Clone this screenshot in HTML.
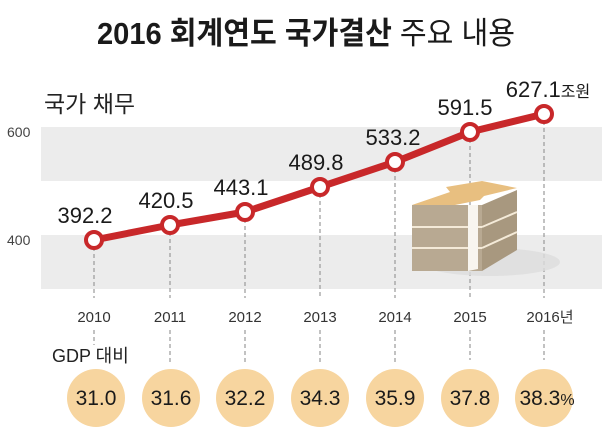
<!DOCTYPE html>
<html><head><meta charset="utf-8"><style>
html,body{margin:0;padding:0;background:#fff;}
svg{display:block;font-family:"Liberation Sans","Noto Sans CJK KR",sans-serif;}
</style></head><body>
<svg width="614" height="445" viewBox="0 0 614 445" xmlns="http://www.w3.org/2000/svg">
<rect width="614" height="445" fill="#fff"/>
<text x="97" y="44" font-size="31" fill="#1a1a1a" textLength="418" lengthAdjust="spacingAndGlyphs"><tspan font-weight="bold">2016 회계연도 국가결산</tspan> 주요 내용</text>
<text x="44" y="112" font-size="23" fill="#222">국가 채무</text>
<rect x="41" y="127" width="561" height="54" fill="#ececec"/>
<rect x="41" y="235" width="561" height="54" fill="#ececec"/>
<text x="7" y="137" font-size="14" fill="#444">600</text>
<text x="7" y="245" font-size="14" fill="#444">400</text>
<g stroke="#999" stroke-width="1.2" stroke-dasharray="4,3">
<line x1="94" y1="240" x2="94" y2="298"/><line x1="94" y1="330" x2="94" y2="345"/>
<line x1="170" y1="225" x2="170" y2="298"/><line x1="170" y1="330" x2="170" y2="365"/>
<line x1="245" y1="212" x2="245" y2="298"/><line x1="245" y1="330" x2="245" y2="365"/>
<line x1="320" y1="187" x2="320" y2="298"/><line x1="320" y1="330" x2="320" y2="365"/>
<line x1="395" y1="162" x2="395" y2="298"/><line x1="395" y1="330" x2="395" y2="365"/>
<line x1="470" y1="132" x2="470" y2="298"/><line x1="470" y1="330" x2="470" y2="360"/>
<line x1="544" y1="114" x2="544" y2="298"/><line x1="544" y1="330" x2="544" y2="360"/>
</g>
<!-- money stack -->
<g>
<ellipse cx="490" cy="262" rx="70" ry="14" fill="#ddd" opacity="0.8"/>
<polygon points="412,205 450,192 446,187 482,181 517,188 484,196 480,200 440,208" fill="#e8bf80"/>
<rect x="412" y="205" width="70" height="66" fill="#b8a992"/>
<polygon points="482,205 517,190 517,250 482,271" fill="#a8987f"/>
<line x1="412" y1="227" x2="482" y2="227" stroke="#f4ead8" stroke-width="2"/>
<line x1="412" y1="248" x2="482" y2="248" stroke="#f4ead8" stroke-width="2"/>
<line x1="482" y1="227" x2="517" y2="212" stroke="#f4ead8" stroke-width="2"/>
<line x1="482" y1="248" x2="517" y2="232" stroke="#f4ead8" stroke-width="2"/>
<polygon points="468,205 478,205 478,269 468,271" fill="#f8f5ef"/>
</g>
<polyline points="94,240 170,225 245,212 320,187 395,162 470,132 544,114" fill="none" stroke="#c8282a" stroke-width="7" stroke-linejoin="round"/>
<g fill="#fff" stroke="#c8282a" stroke-width="4">
<circle cx="94" cy="240" r="8"/><circle cx="170" cy="225" r="8"/><circle cx="245" cy="212" r="8"/>
<circle cx="320" cy="187" r="8"/><circle cx="395" cy="162" r="8"/><circle cx="470" cy="132" r="8"/><circle cx="544" cy="114" r="8"/>
</g>
<g font-size="22" fill="#1a1a1a" text-anchor="middle">
<text x="85" y="223">392.2</text><text x="166" y="208">420.5</text><text x="241" y="195">443.1</text>
<text x="316" y="170">489.8</text><text x="393" y="145">533.2</text><text x="465" y="115">591.5</text>
<text x="548" y="97">627.1<tspan font-size="16">조원</tspan></text>
</g>
<g font-size="15" fill="#333" text-anchor="middle">
<text x="94" y="322">2010</text><text x="170" y="322">2011</text><text x="245" y="322">2012</text>
<text x="320" y="322">2013</text><text x="395" y="322">2014</text><text x="470" y="322">2015</text><text x="550" y="322">2016년</text>
</g>
<text x="52" y="362" font-size="18" fill="#222">GDP 대비</text>
<g fill="#f7d59f">
<circle cx="96" cy="398" r="29"/><circle cx="171" cy="398" r="29"/><circle cx="245" cy="398" r="29"/>
<circle cx="320" cy="398" r="29"/><circle cx="395" cy="398" r="29"/><circle cx="470" cy="398" r="29"/><circle cx="544" cy="398" r="29"/>
</g>
<g font-size="21" fill="#1a1a1a" text-anchor="middle">
<text x="96" y="405">31.0</text><text x="171" y="405">31.6</text><text x="245" y="405">32.2</text>
<text x="320" y="405">34.3</text><text x="395" y="405">35.9</text><text x="470" y="405">37.8</text>
<text x="547" y="405">38.3<tspan font-size="16">%</tspan></text>
</g>
</svg>
</body></html>
